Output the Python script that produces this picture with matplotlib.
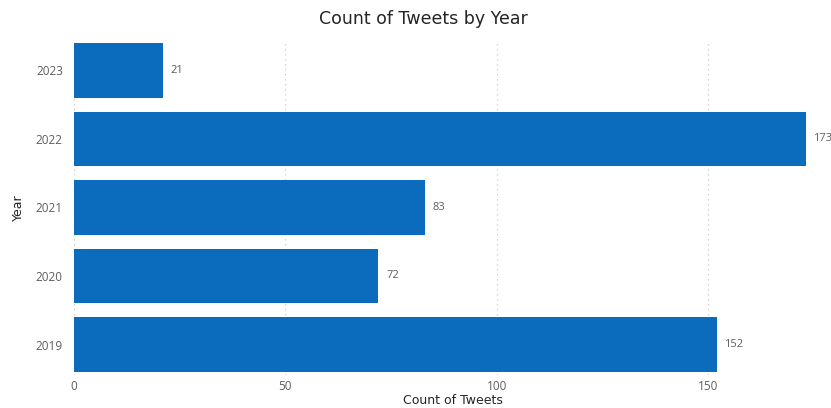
import matplotlib
matplotlib.use("Agg")
import matplotlib.pyplot as plt

years = ["2019", "2020", "2021", "2022", "2023"]
tweets = [152, 72, 83, 173, 21]
xticks = [0, 50, 100, 150]

bar_color = "#0B6CBD"
grey = "#605E5C"

fig = plt.figure(figsize=(8.31, 4.08), dpi=100)
ax = fig.add_axes([0.089, 0.080, 0.911, 0.823])

bars = ax.barh(years, tweets, height=0.8, color=bar_color, zorder=2)
for b, v in zip(bars, tweets):
    ax.text(v + 1.8, b.get_y() + b.get_height() / 2, str(v), va="center", ha="left",
            fontsize=8, color=grey, family="Open Sans")

ax.set_xlim(0, 179)
ax.set_ylim(-0.45, 4.45)
ax.set_xticks(xticks)
ax.grid(axis="x", linestyle=(0, (1, 3)), color="#C8C8C8", linewidth=0.9, zorder=0)
for s in ax.spines.values():
    s.set_visible(False)
ax.tick_params(axis="x", length=0, labelsize=8.5, labelcolor=grey, pad=3)
ax.tick_params(axis="y", length=0, labelsize=8.5, labelcolor=grey, pad=8)
for lab in ax.get_xticklabels() + ax.get_yticklabels():
    lab.set_family("Open Sans")

ax.set_xlabel("Count of Tweets", fontsize=9, color="#252423", family="DejaVu Sans", labelpad=1)
ax.set_ylabel("Year", fontsize=9, color="#252423", family="DejaVu Sans", labelpad=8)
fig.suptitle("Count of Tweets by Year", x=0.51, y=0.975, fontsize=12.5, color="#252423",
             family="DejaVu Sans")

fig.savefig("out.png", dpi=100)
